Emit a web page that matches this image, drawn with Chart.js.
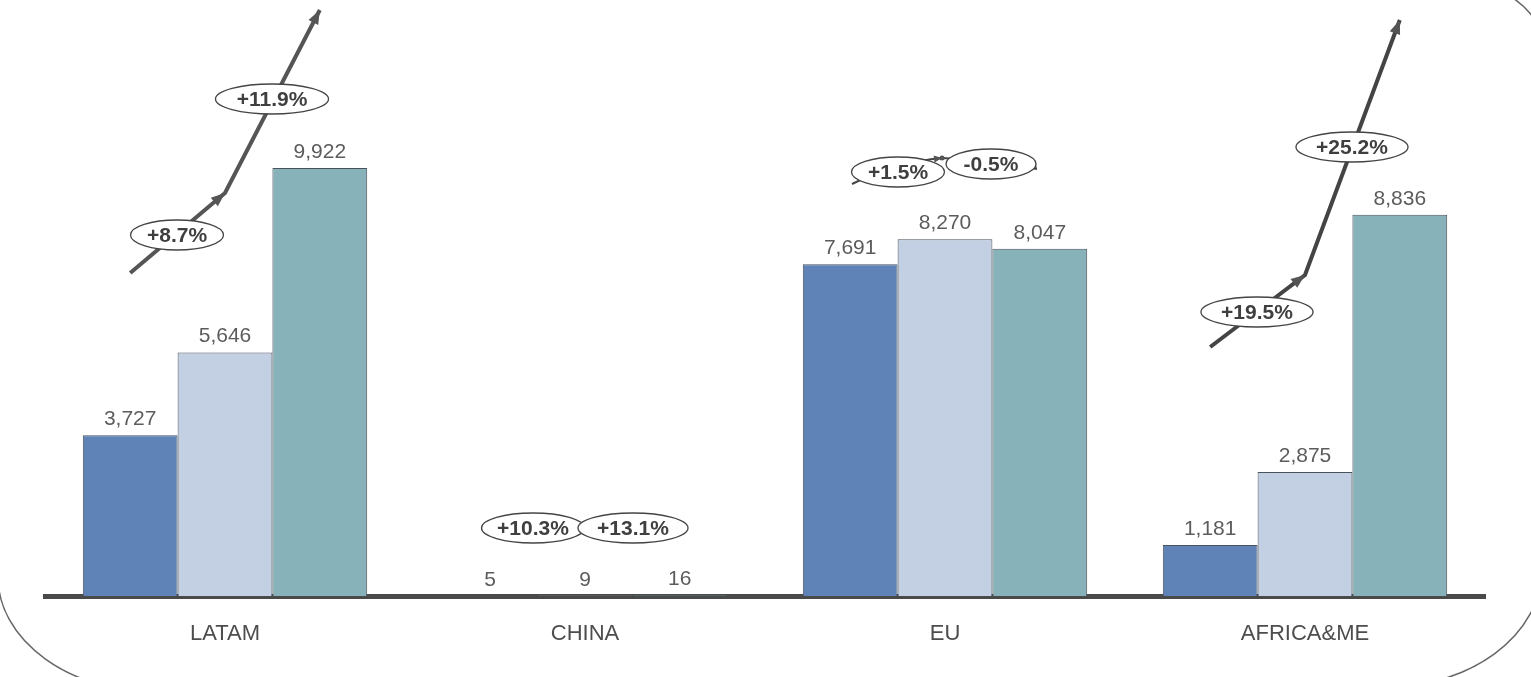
<!DOCTYPE html>
<html>
<head>
<meta charset="utf-8">
<script src="https://cdn.jsdelivr.net/npm/chart.js@4.4.1/dist/chart.umd.min.js"></script>
<style>
  body { margin: 0; background: #fff; }
  #wrap { width: 1531px; height: 677px; position: relative; }
</style>
</head>
<body>
<div id="wrap"><canvas id="chart"></canvas></div>
<script>
const categories = ["LATAM", "CHINA", "EU", "AFRICA&ME"];
const series1 = [3727, 5, 7691, 1181];
const series2 = [5646, 9, 8270, 2875];
const series3 = [9922, 16, 8047, 8836];
const growthFirst = ["+8.7%", "+10.3%", "+1.5%", "+19.5%"];
const growthSecond = ["+11.9%", "+13.1%", "-0.5%", "+25.2%"];

// where the growth bubbles and arrows sit (pixels, annotation only)
const bubbleLayout = [
  { arrow: [273, 193, 10], first: [177, 235, 93], second: [272, 99, 113] },
  { arrow: null, first: [533, 528, 103], second: [633, 528, 110] },
  { curve: [[852, 184], [942, 158], [1037, 169]], first: [898, 172, 93], second: [991, 164, 90] },
  { arrow: [347, 275, 20], first: [1257, 312, 112], second: [1352, 147, 112] }
];

const FONT = "'Liberation Sans', Arial, sans-serif";

function arrowHead(ctx, x0, y0, x1, y1, len, wid) {
  const a = Math.atan2(y1 - y0, x1 - x0);
  ctx.beginPath();
  ctx.moveTo(x1, y1);
  ctx.lineTo(x1 - len * Math.cos(a) + wid / 2 * Math.sin(a), y1 - len * Math.sin(a) - wid / 2 * Math.cos(a));
  ctx.lineTo(x1 - len * Math.cos(a) - wid / 2 * Math.sin(a), y1 - len * Math.sin(a) + wid / 2 * Math.cos(a));
  ctx.closePath();
  ctx.fill();
}

function bubble(ctx, cx, cy, w, text) {
  ctx.beginPath();
  ctx.ellipse(cx, cy, w / 2, 15, 0, 0, Math.PI * 2);
  ctx.fillStyle = "#fff";
  ctx.fill();
  ctx.lineWidth = 1.3;
  ctx.strokeStyle = "#444";
  ctx.stroke();
  ctx.fillStyle = "#3f3f3f";
  ctx.font = "bold 21px " + FONT;
  ctx.textAlign = "center";
  ctx.textBaseline = "middle";
  ctx.fillText(text, cx, cy + 1);
}

const framePlugin = {
  id: "frame",
  beforeDraw(chart) {
    const ctx = chart.ctx;
    ctx.save();
    ctx.fillStyle = "#fff";
    ctx.fillRect(0, 0, chart.width, chart.height);
    ctx.strokeStyle = "#666";
    ctx.lineWidth = 1.5;
    ctx.beginPath();
    ctx.ellipse(160, 577, 162, 116, 0, Math.PI / 2, Math.PI);
    ctx.stroke();
    ctx.beginPath();
    ctx.ellipse(1381, 572, 160, 116, 0, 0, Math.PI / 2);
    ctx.stroke();
    ctx.beginPath();
    ctx.ellipse(1381, 41, 160, 76, 0, -Math.PI / 2, 0);
    ctx.stroke();
    ctx.restore();
  }
};

const valueLabels = {
  id: "valueLabels",
  afterDatasetsDraw(chart) {
    const ctx = chart.ctx;
    ctx.save();
    ctx.font = "21px " + FONT;
    ctx.fillStyle = "#5c5c5c";
    ctx.textAlign = "center";
    ctx.textBaseline = "alphabetic";
    chart.data.datasets.forEach((ds, i) => {
      chart.getDatasetMeta(i).data.forEach((bar, j) => {
        ctx.fillText(ds.data[j].toLocaleString("en-US"), bar.x, bar.y - 10);
      });
    });
    ctx.restore();
  }
};

const growthBubbles = {
  id: "growthBubbles",
  afterDraw(chart) {
    const ctx = chart.ctx;
    ctx.save();
    ctx.strokeStyle = "#555";
    ctx.fillStyle = "#555";
    bubbleLayout.forEach((lay, j) => {
      if (lay.arrow) {
        const xs = [0, 1, 2].map((i) => chart.getDatasetMeta(i).data[j].x);
        const ys = lay.arrow;
        ctx.lineWidth = 4;
        ctx.beginPath();
        ctx.moveTo(xs[0], ys[0]);
        ctx.lineTo(xs[1], ys[1]);
        ctx.lineTo(xs[2], ys[2]);
        ctx.stroke();
        ctx.fillStyle = "#555";
        arrowHead(ctx, xs[0], ys[0], xs[1], ys[1], 14, 11);
        arrowHead(ctx, xs[1], ys[1], xs[2], ys[2], 14, 11);
      }
      if (lay.curve) {
        const p = lay.curve;
        ctx.lineWidth = 2;
        ctx.beginPath();
        ctx.moveTo(p[0][0], p[0][1]);
        ctx.quadraticCurveTo((p[0][0] + p[1][0]) / 2, p[1][1] + 4, p[1][0], p[1][1]);
        ctx.quadraticCurveTo((p[1][0] + p[2][0]) / 2, p[1][1] + 2, p[2][0], p[2][1]);
        ctx.stroke();
        ctx.fillStyle = "#555";
        arrowHead(ctx, p[1][0] - 8, p[1][1] + 1, p[1][0], p[1][1], 8, 7);
        arrowHead(ctx, p[2][0] - 4, p[2][1] - 6, p[2][0], p[2][1], 8, 7);
      }
      bubble(ctx, lay.first[0], lay.first[1], lay.first[2], growthFirst[j]);
      bubble(ctx, lay.second[0], lay.second[1], lay.second[2], growthSecond[j]);
      if (lay.curve) {
        const p = lay.curve;
        ctx.fillStyle = "#555";
        ctx.beginPath();
        ctx.arc(p[1][0], p[1][1], 2.5, 0, Math.PI * 2);
        ctx.fill();
      }
    });
    ctx.restore();
  }
};

const ctx = document.getElementById("chart").getContext("2d");
new Chart(ctx, {
  type: "bar",
  data: {
    labels: categories,
    datasets: [
      { label: "A", data: series1, backgroundColor: "#5f83b6" },
      { label: "B", data: series2, backgroundColor: "#c3d0e3" },
      { label: "C", data: series3, backgroundColor: "#87b2ba" }
    ]
  },
  options: {
    responsive: true,
    maintainAspectRatio: false,
    animation: false,
    layout: { padding: { left: 45, right: 46, top: 10, bottom: 0 } },
    datasets: {
      bar: {
        categoryPercentage: 0.79,
        barPercentage: 1.0,
        borderColor: "#4a525c",
        borderWidth: 1,
        borderSkipped: "bottom"
      }
    },
    plugins: {
      legend: { display: false },
      tooltip: { enabled: false }
    },
    scales: {
      x: {
        grid: { display: false, drawTicks: false },
        border: { display: true, color: "#4a4a4a", width: 5 },
        ticks: { color: "#4d4d4d", font: { family: FONT, size: 22 }, padding: 25 },
        afterFit(scale) { scale.height = 81; }
      },
      y: {
        display: false,
        min: 0,
        max: 13584
      }
    }
  },
  plugins: [framePlugin, valueLabels, growthBubbles]
});
</script>
</body>
</html>
